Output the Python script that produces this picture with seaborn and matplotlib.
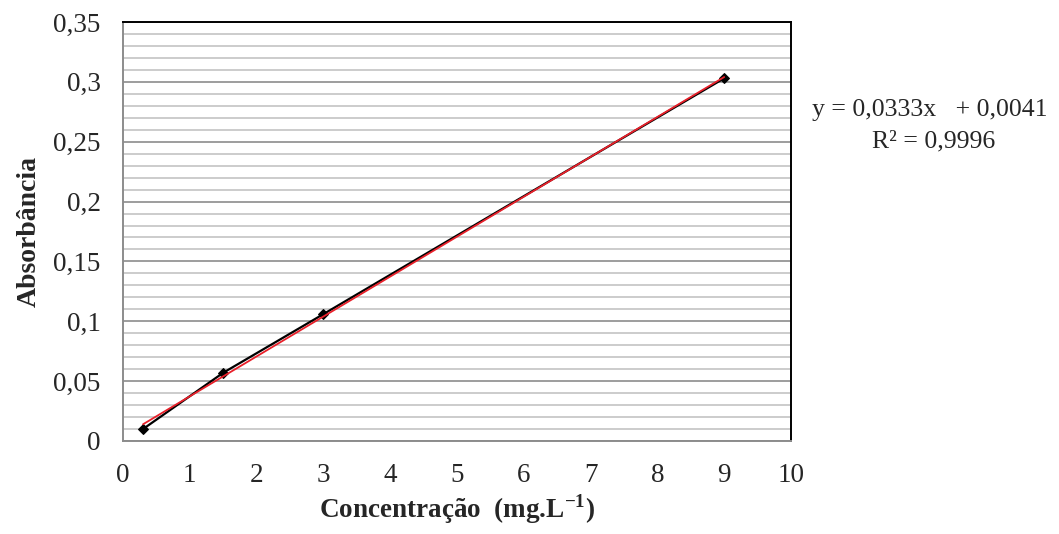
import numpy as np
import pandas as pd
import matplotlib.pyplot as plt
from matplotlib.ticker import MultipleLocator, FuncFormatter
import seaborn as sns

# calibration data
conc = [0.3, 1.5, 3.0, 9.0]
absorb = [0.010, 0.057, 0.106, 0.303]
eq_text = "y = 0,0333x   + 0,0041"
r2_text = "R² = 0,9996"

df = pd.DataFrame({"conc": conc, "abs": absorb})

sns.set_style("white")
plt.rcParams['font.family'] = ['Liberation Serif', 'DejaVu Serif']

fig = plt.figure(figsize=(10.59, 5.34), dpi=100)
ax = fig.add_axes([123 / 1059, 93 / 534, 668 / 1059, 419 / 534])

# data series (black line with diamonds) and linear trendline (red)
sns.lineplot(data=df, x="conc", y="abs", ax=ax, color="black", lw=1.6,
             marker="D", markersize=5, markeredgecolor="black", zorder=3)
sns.regplot(data=df, x="conc", y="abs", ax=ax, ci=None, scatter=False,
            color="#e8202a", line_kws={"lw": 1.3, "zorder": 4})

ax.set_xlim(0, 10)
ax.set_ylim(0, 0.35)
ax.xaxis.set_major_locator(MultipleLocator(1))
ax.yaxis.set_major_locator(MultipleLocator(0.05))
ax.yaxis.set_minor_locator(MultipleLocator(0.01))

fmt = FuncFormatter(lambda v, p: ("%g" % round(v, 3)).replace(".", ","))
ax.xaxis.set_major_formatter(fmt)
ax.yaxis.set_major_formatter(fmt)

ax.grid(True, which="major", axis="y", color="#8c8c8c", lw=1.2)
ax.grid(True, which="minor", axis="y", color="#c4c4c4", lw=1.2)
ax.set_axisbelow(True)

ax.tick_params(axis="both", which="major", direction="out", length=7, width=1,
               color="#8c8c8c", labelsize=19.5, labelcolor="#262626")
ax.tick_params(axis="x", which="major", pad=9)
ax.tick_params(axis="y", which="major", pad=9)
ax.tick_params(axis="y", which="minor", length=0)

for s in ["left", "bottom"]:
    ax.spines[s].set_color("#8c8c8c")
    ax.spines[s].set_linewidth(1.4)
for s in ["top", "right"]:
    ax.spines[s].set_color("black")
    ax.spines[s].set_linewidth(1.4)

ax.set_xlabel("Concentração  (mg.L$^{\\mathregular{-1}}$)", fontsize=19.5,
              fontweight="bold", labelpad=3)
ax.set_ylabel("Absorbância", fontsize=20, fontweight="bold", labelpad=8)

fig.text(930 / 1059, 1 - 110 / 534, eq_text, fontsize=18.5, ha="center", va="center")
fig.text(934 / 1059, 1 - 141 / 534, r2_text, fontsize=18.5, ha="center", va="center")

fig.savefig("out.png", dpi=100)
